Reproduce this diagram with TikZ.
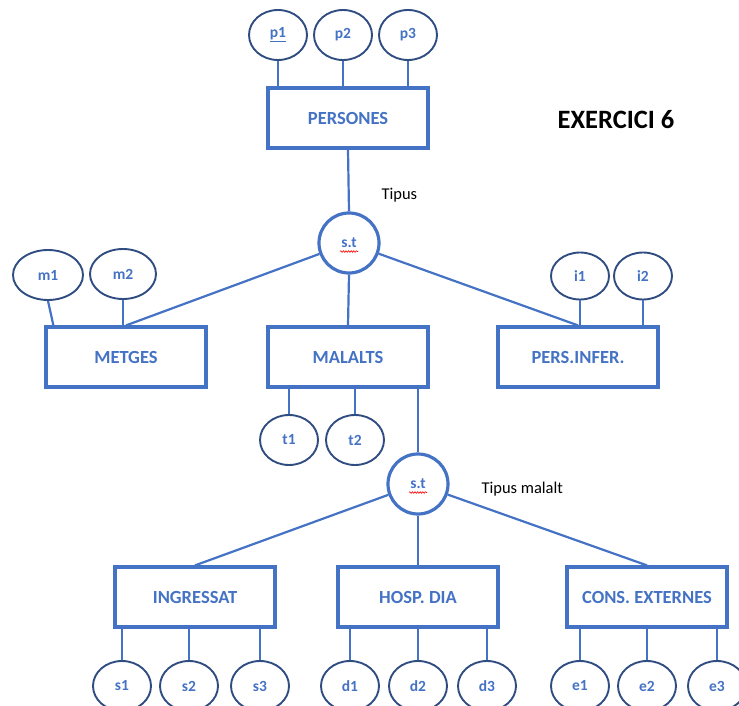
\documentclass[tikz,border=0pt]{standalone}
\usepackage{fontspec}
\setmainfont{Carlito}
\usetikzlibrary{shapes.geometric,calc,decorations.pathmorphing}
\definecolor{erblue}{HTML}{4472C4}
\definecolor{ernavy}{HTML}{2F4D80}
\begin{document}
\begin{tikzpicture}[x=1pt,y=-1pt,
  entity/.style={draw=erblue,line width=3.2pt,minimum width=160pt,minimum height=60pt,
    inner sep=0pt,text=erblue,font=\fontsize{18.5}{20}\selectfont\bfseries},
  attr/.style={draw=ernavy,line width=1.9pt,ellipse,minimum width=58pt,minimum height=50pt,
    inner sep=0pt,text=erblue,font=\fontsize{15.5}{17}\selectfont\bfseries},
  isa/.style={draw=erblue,line width=3.2pt,circle,minimum size=60pt,inner sep=0pt,
    text=erblue,font=\fontsize{15.5}{17}\selectfont\bfseries},
  link/.style={draw=erblue,line width=2.2pt},
  note/.style={font=\fontsize{16.5}{18}\selectfont,text=black,anchor=west},
  squiggle/.style={draw=red,line width=0.6pt,decorate,
    decoration={snake,amplitude=0.8pt,segment length=2.6pt}}]
\useasboundingbox (0,0) rectangle (739,706);
\clip (0,0) rectangle (739,706);

% entities
\node[entity] (persones) at (348,118) {PERSONES};
\node[entity] (metges)   at (126,357) {METGES};
\node[entity] (malalts)  at (348,357) {MALALTS};
\node[entity] (infer)    at (578,357) {PERS.INFER.};
\node[entity] (ingres)   at (195,597) {INGRESSAT};
\node[entity] (hosp)     at (418,597) {HOSP. DIA};
\node[entity] (cons)     at (647,597) {CONS. EXTERNES};

% specialisation circles
\node[isa] (st1) at (349,243) {s.t};
\node[isa] (st2) at (418,484) {s.t};
\draw[squiggle] ($(st1.center)+(-9,8.5)$) -- ++(18,0);
\draw[squiggle] ($(st2.center)+(-9,8.5)$) -- ++(18,0);

% attributes
\node[attr] (p1) at (278,35) {\underline{p1}};
\node[attr] (p2) at (343,35) {p2};
\node[attr] (p3) at (408,35) {p3};
\node[attr,minimum width=70pt] (m1) at (48,275) {m1};
\node[attr,minimum width=66pt] (m2) at (123,274) {m2};
\node[attr,minimum height=47pt] (i1) at (580,276) {i1};
\node[attr,minimum height=47pt] (i2) at (643,276) {i2};
\node[attr] (t1) at (289,440) {t1};
\node[attr] (t2) at (355,440) {t2};
\node[attr] (s1) at (122,686) {s1};
\node[attr] (s2) at (189,686) {s2};
\node[attr] (s3) at (260,686) {s3};
\node[attr] (d1) at (350,686) {d1};
\node[attr] (d2) at (418,686) {d2};
\node[attr] (d3) at (487,686) {d3};
\node[attr] (e1) at (580,686) {e1};
\node[attr] (e2) at (647,686) {e2};
\node[attr] (e3) at (717,686) {e3};

% labels
\node[note] (tip1) at (378,195) {Tipus};
\node[note] (tip2) at (478,489) {Tipus malalt};
\node[font=\fontsize{26.5}{28}\selectfont\bfseries] (title) at (616,120) {EXERCICI 6};

% attribute connectors
\foreach \a in {p1,p2,p3}
  \draw[link] (\a.south) -- (\a.south |- persones.north);
\coordinate (m1foot) at ($(metges.north west)+(9,0)$);
\draw[link] (m1.south) -- (m1foot);
\draw[link] (m2.south) -- (m2.south |- metges.north);
\draw[link] (i1.south) -- (i1.south |- infer.north);
\draw[link] (i2.south) -- (i2.south |- infer.north);
\draw[link] (t1.north |- malalts.south) -- (t1.north);
\draw[link] (t2.north |- malalts.south) -- (t2.north);
\foreach \a/\e in {s1/ingres,s2/ingres,s3/ingres,d1/hosp,d2/hosp,d3/hosp,e1/cons,e2/cons,e3/cons}
  \draw[link] (\a.north |- \e.south) -- (\a.north);

% hierarchy connectors
\draw[link] (persones.south) -- (st1.north);
\draw[link] (st1) -- (metges.north);
\draw[link] (st1.south) -- (malalts.north);
\draw[link] (st1) -- (infer.north);
\draw[link] (st2.north |- malalts.south) -- (st2.north);
\draw[link] (st2) -- (ingres.north);
\draw[link] (st2.south) -- (hosp.north);
\draw[link] (st2) -- (cons.north);
\end{tikzpicture}
\end{document}
